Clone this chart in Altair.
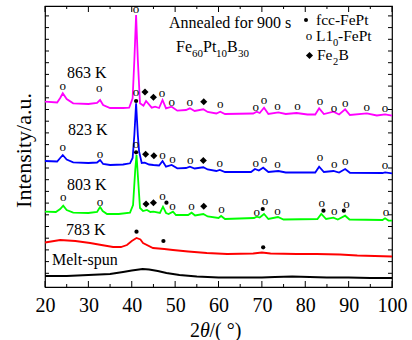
import altair as alt
import pandas as pd

FONT = "Liberation Serif"

# ---------------- data (2theta in degrees, intensity in arbitrary units) ----------------
x_labels = [20, 30, 40, 50, 60, 70, 80, 90, 100]
x_minor = [25, 35, 45, 55, 65, 75, 85, 95]
y_ticks = [13.7, 25.4, 37.1, 48.8, 60.5, 72.2, 83.9, 95.6, 107.3, 119.0, 130.7, 142.4,
           154.1, 165.8, 177.5, 189.2, 200.9, 212.6, 224.3, 236.0, 247.7, 259.4, 271.1]

ms_x = [20, 25, 30, 35, 38, 40, 42.5, 44, 46, 48, 51, 55, 60, 65, 70, 73, 77, 81, 85, 90, 95, 100]
ms_y = [11, 11, 12, 13, 15, 16.5, 18, 17.5, 16, 14, 12, 10.5, 9.5, 9.5, 9.5, 10, 10.5, 10, 9.5, 9.5, 9, 9]

k783_x = [20, 23.5, 27, 30.4, 33, 35.7, 37.5, 38.9, 40, 41.1, 42, 42.6, 44.9, 47.5, 49.5, 53,
          57.3, 62, 68, 70, 72, 78, 82.6, 88, 92, 96, 100]
k783_y = [44.5, 47, 46, 44, 42, 40, 40, 42, 46, 49, 47.5, 44, 39, 38, 37, 35.5,
          34, 33, 33.5, 34.5, 33.5, 33, 33, 32.5, 31.5, 31, 30.5]

k803_x = [20, 22.5, 23.5, 24.2, 25, 26.5, 30, 32.0, 32.7, 33.3, 34.3, 37, 39.6, 40.3, 40.8, 41.1,
          41.4, 41.9, 42.6, 43.5, 44.3, 45, 46.5, 47.2, 47.9, 48.5, 49.5, 50.2, 53, 53.8, 54.6,
          56.5, 57.5, 60, 60.6, 61.5, 68.2, 68.8, 69.5, 70.5, 71.5, 73.7, 75, 82.8, 83.7, 84.8,
          86.5, 87.5, 89.2, 90.2, 97.8, 98.4, 99.2, 100]
k803_y = [75.3, 75, 78, 81.3, 77, 74.3, 74, 75, 80, 76, 73, 73, 74.3, 82, 117, 132,
          112, 79, 76, 77, 75, 75.3, 74, 80.3, 74, 73, 75.3, 72, 72, 74.3, 71.5,
          73, 70.5, 69, 71, 68, 69, 70.3, 69.5, 73, 68, 70, 67.5, 68, 73, 68,
          69.3, 67.5, 71.3, 67.5, 67, 68.7, 66.5, 66.3]

k823_x = [20, 22.8, 23.5, 24.1, 25, 26.5, 30, 32.0, 32.7, 33.4, 35, 38, 39.6, 40.2, 40.6, 41.0,
          41.4, 41.7, 42.3, 43.0, 44, 45, 46.3, 47.1, 47.9, 49.2, 50.5, 52.5, 53.4, 54.5, 56.5,
          57.5, 59.5, 60.3, 61.5, 67.5, 68.4, 69.3, 70.3, 71.5, 73.8, 75.5, 82.3, 83.2, 84.3,
          86.5, 87.8, 89.2, 90.3, 97.8, 98.4, 100]
k823_y = [126, 125.5, 129, 132, 127.5, 124.7, 124, 124.5, 127, 123, 122, 122.5, 123.7, 129, 152, 183.7,
          152, 135.3, 124, 124.3, 122.5, 122, 121.5, 126, 120.3, 122, 118.7, 119, 120.3, 118.5, 119.7,
          117.5, 116, 117, 115, 115, 118, 116.5, 119.3, 115, 116, 114.5, 114.5, 120.3, 115,
          116, 114.5, 118, 114.2, 114, 114.7, 113.7]

k863_x = [20, 22.8, 23.5, 24.1, 25, 26.5, 30, 32.0, 32.7, 33.4, 35, 38, 39.4, 40.2, 40.6, 41.0,
          41.4, 41.9, 42.7, 43.3, 44.6, 45.4, 46.3, 47.1, 47.9, 49.2, 50.5, 52.5, 53.4, 54.5, 56.5,
          57.5, 59.5, 60.4, 61.5, 68.0, 68.8, 69.5, 70.5, 71.5, 73.8, 75.5, 78, 80.5, 82.3, 83.2,
          84.3, 86.5, 87.8, 89.2, 90.3, 94.2, 96.5, 98.4, 100]
k863_y = [185.3, 184.5, 189, 193.7, 188, 183.7, 183, 184, 187, 182, 179, 179, 179.3, 188.7, 227, 272,
          227, 183.7, 181.3, 186, 179.3, 180.3, 179, 187, 178.7, 180.3, 176.3, 177, 178.7, 176, 177.7,
          175, 173.5, 175.3, 173, 173.5, 175.3, 174, 179.3, 173, 174.7, 173, 174, 172.5, 172.5, 178.7,
          173, 175.3, 172.5, 177.7, 172, 173.7, 171.5, 172.7, 171.3]

# phase markers (2theta, height)
l10_pts = [(24.1, 200), (32.5, 198), (41.0, 277), (47.0, 192.7), (49.2, 184.3), (53.4, 184.3),
           (60.4, 182.5), (68.6, 179.3), (70.5, 186), (73.6, 179.7), (78.2, 179.7), (83.4, 185.3),
           (86.6, 178), (89.2, 183), (94.2, 178.7), (98.4, 178),
           (24.1, 139.3), (32.7, 132), (41.0, 193.7), (47.1, 131.3), (49.4, 127), (53.5, 126),
           (60.3, 123), (68.6, 123), (70.5, 127), (73.6, 122), (83.4, 129.3), (86.7, 122),
           (89.2, 125.3), (98.4, 121),
           (24.2, 88.7), (32.7, 84.3), (41.0, 142), (47.1, 90.3), (49.4, 80.3), (53.8, 80.3),
           (60.7, 77), (68.8, 74.3), (70.7, 84.7), (73.6, 74.7), (83.8, 83), (86.7, 74.7),
           (89.5, 82), (98.6, 74.3)]
fcc_pts = [(41.0, 186), (41.0, 134.7), (48.0, 84.3), (70.2, 78), (84.2, 76.3), (88.9, 76.3),
           (41.1, 55.3), (47.3, 46), (70.3, 39.7)]
fe2b_pts = [(43.05, 195), (45.0, 189.7), (56.6, 185.3),
            (43.2, 132.7), (45.1, 131.3), (56.5, 126.5),
            (43.3, 83), (45.0, 84.3), (56.6, 80.7)]

# ---------------- chart ----------------
W, H = 347, 281
LEFT, TOP = 45, 6

xscale = alt.Scale(domain=[20, 100], nice=False, zero=False)
yscale = alt.Scale(domain=[0, 281], nice=False, zero=False)
X = alt.X('x:Q', scale=xscale,
          axis=alt.Axis(values=x_labels, format='d', labelFont=FONT, labelFontSize=20,
                        labelColor='black', labelPadding=8, ticks=False, domain=False,
                        grid=False, title=None, labelFlush=False))
Y = alt.Y('y:Q', scale=yscale,
          axis=alt.Axis(labels=False, ticks=False, domain=False, grid=False,
                        title='Intensity/a.u.', titleFont=FONT, titleFontSize=22,
                        titleFontWeight='normal', titleColor='black', titleX=-22,
                        titleY=144, titleAngle=270, titleAlign='center',
                        titleBaseline='middle'))


def curve(xs, ys, color):
    return alt.Chart(pd.DataFrame({'x': xs, 'y': ys})).mark_line(
        color=color, strokeWidth=1.8).encode(X, Y)


def pts(lst):
    return pd.DataFrame({'x': [p[0] for p in lst], 'y': [p[1] for p in lst]})


one = pd.DataFrame({'k': [0]})


def txt(s, px, py, size=16, style='normal', align='left', dy=0):
    return alt.Chart(one).mark_text(text=s, font=FONT, fontSize=size, fontStyle=style,
                                    align=align, baseline='middle', color='black', dy=dy).encode(
        x=alt.value(px - LEFT), y=alt.value(py - TOP))


def sym(shape, px, py, size):
    return alt.Chart(one).mark_point(shape=shape, filled=True, size=size, color='black',
                                     opacity=1).encode(x=alt.value(px - LEFT), y=alt.value(py - TOP))


layers = [
    curve(ms_x, ms_y, '#000000'),
    curve(k783_x, k783_y, '#FF0000'),
    curve(k803_x, k803_y, '#00FF00'),
    curve(k823_x, k823_y, '#0000FF'),
    curve(k863_x, k863_y, '#FF00FF'),
    alt.Chart(pts(l10_pts)).mark_text(text='o', font=FONT, fontSize=13, baseline='middle',
                                      align='center', dy=-1, color='black').encode(X, Y),
    alt.Chart(pts(fcc_pts)).mark_point(shape='circle', filled=True, size=18, color='black',
                                       opacity=1).encode(X, Y),
    alt.Chart(pts(fe2b_pts)).mark_point(shape='diamond', filled=True, size=50, color='black',
                                        opacity=1).encode(X, Y),
    # ticks (inward)
    alt.Chart(pd.DataFrame({'x': x_labels})).mark_rule(color='black', strokeWidth=1).encode(
        X, y=alt.value(H - 6), y2=alt.value(H)),
    alt.Chart(pd.DataFrame({'x': x_minor})).mark_rule(color='black', strokeWidth=1).encode(
        X, y=alt.value(H - 3), y2=alt.value(H)),
    alt.Chart(pd.DataFrame({'x': x_labels})).mark_rule(color='black', strokeWidth=1).encode(
        X, y=alt.value(0), y2=alt.value(6)),
    alt.Chart(pd.DataFrame({'x': x_minor})).mark_rule(color='black', strokeWidth=1).encode(
        X, y=alt.value(0), y2=alt.value(3)),
    alt.Chart(pd.DataFrame({'y': y_ticks})).mark_rule(color='black', strokeWidth=1).encode(
        Y, x=alt.value(0), x2=alt.value(4)),
    alt.Chart(pd.DataFrame({'y': y_ticks})).mark_rule(color='black', strokeWidth=1).encode(
        Y, x=alt.value(W - 4), x2=alt.value(W)),
    # curve labels
    txt('863 K', 67, 73), txt('823 K', 68, 130), txt('803 K', 67, 185),
    txt('783 K', 66, 230), txt('Melt-spun', 52, 259.5),
    # header
    txt('Annealed for 900 s', 169, 23),
    txt('Fe', 176, 47), txt('60', 192, 54, 11), txt('Pt', 203, 47), txt('10', 216, 54, 11),
    txt('B', 227, 47), txt('30', 238, 54, 11),
    # legend
    sym('circle', 306, 20, 16), txt('fcc-FePt', 316, 20, 15.5),
    txt('o', 309, 37, 13, align='center', dy=-1), txt('L1', 316, 36, 15.5),
    txt('0', 333, 42.5, 10.5), txt('-FePt', 338, 36, 15.5),
    sym('diamond', 309.5, 55.5, 50), txt('Fe', 317, 55, 15.5), txt('2', 333, 62, 10.5),
    txt('B', 338.5, 55, 15.5),
    # x title
    txt('2', 190, 331, 20), txt('θ', 200, 331, 20, style='italic'), txt('/( °)', 209.5, 331, 20),
]

chart = alt.layer(*layers).properties(
    width=W, height=H, autosize='none',
    padding={'left': LEFT, 'top': TOP, 'right': 412 - LEFT - W, 'bottom': 340 - TOP - H},
    background='white',
).configure_view(stroke='black', strokeWidth=1.2)

chart.save("out.html", embed_options={"renderer": "svg", "actions": False})
